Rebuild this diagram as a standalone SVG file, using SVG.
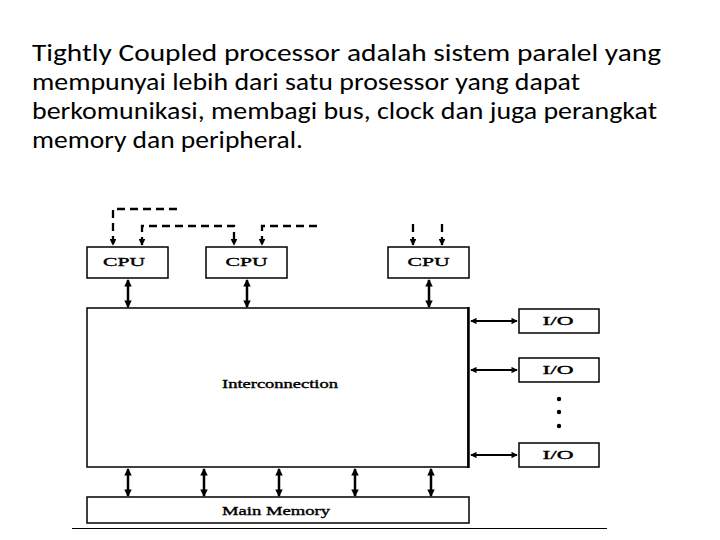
<svg xmlns="http://www.w3.org/2000/svg" width="720" height="540" viewBox="0 0 720 540">
<style>
.title{font-family:Carlito,Lato,"Liberation Sans",sans-serif;font-size:24px;fill:#000}
.box{fill:#fff;stroke:#000;stroke-width:1.5}
.lbl{font-family:"Liberation Serif","DejaVu Serif",serif;font-size:12px;fill:#000;stroke:#000;stroke-width:0.35;text-anchor:middle}
.bus{stroke:#000;stroke-width:2.5;fill:none}
.io{stroke:#000;stroke-width:1.8;fill:none}
.dash{stroke:#000;stroke-width:2.3;fill:none;stroke-dasharray:8 5}
</style>
<defs>
<marker id="ah" viewBox="0 0 8 8" refX="7" refY="4" markerWidth="3" markerHeight="3" orient="auto-start-reverse">
<path d="M0,0 L8,4 L0,8 z" fill="#000"/>
</marker>
<marker id="ahs" viewBox="0 0 8 8" refX="7" refY="4" markerWidth="3.5" markerHeight="3.5" orient="auto-start-reverse">
<path d="M0,0 L8,4 L0,8 z" fill="#000"/>
</marker>
</defs>
<rect width="720" height="540" fill="#fff"/>
<g id="title">
<text class="title" x="32" y="61" textLength="629" lengthAdjust="spacingAndGlyphs">Tightly Coupled processor adalah sistem paralel yang</text>
<text class="title" x="32" y="90" textLength="548" lengthAdjust="spacingAndGlyphs">mempunyai lebih dari satu prosessor yang dapat</text>
<text class="title" x="32" y="119" textLength="625" lengthAdjust="spacingAndGlyphs">berkomunikasi, membagi bus, clock dan juga perangkat</text>
<text class="title" x="32" y="148" textLength="271" lengthAdjust="spacingAndGlyphs">memory dan peripheral.</text>
</g>
<g id="connectors">
<polyline class="dash" points="177,209 113,209 113,245" marker-end="url(#ah)"/>
<polyline class="dash" points="142,245 142,226 234,226 234,245" marker-start="url(#ah)" marker-end="url(#ah)"/>
<polyline class="dash" points="317,226 262,226 262,245" marker-end="url(#ah)"/>
<line class="dash" x1="413" y1="224" x2="413" y2="245" marker-end="url(#ah)"/>
<line class="dash" x1="442" y1="224" x2="442" y2="245" marker-end="url(#ah)"/>
<line class="bus" x1="128" y1="280" x2="128" y2="307" marker-start="url(#ah)" marker-end="url(#ah)"/>
<line class="bus" x1="247" y1="280" x2="247" y2="307" marker-start="url(#ah)" marker-end="url(#ah)"/>
<line class="bus" x1="429" y1="280" x2="429" y2="307" marker-start="url(#ah)" marker-end="url(#ah)"/>
<line class="bus" x1="128" y1="469" x2="128" y2="496" marker-start="url(#ah)" marker-end="url(#ah)"/>
<line class="bus" x1="204" y1="469" x2="204" y2="496" marker-start="url(#ah)" marker-end="url(#ah)"/>
<line class="bus" x1="279" y1="469" x2="279" y2="496" marker-start="url(#ah)" marker-end="url(#ah)"/>
<line class="bus" x1="355" y1="469" x2="355" y2="496" marker-start="url(#ah)" marker-end="url(#ah)"/>
<line class="bus" x1="431" y1="469" x2="431" y2="496" marker-start="url(#ah)" marker-end="url(#ah)"/>
<line class="io" x1="471" y1="321" x2="517" y2="321" marker-start="url(#ahs)" marker-end="url(#ahs)"/>
<line class="io" x1="471" y1="370" x2="517" y2="370" marker-start="url(#ahs)" marker-end="url(#ahs)"/>
<line class="io" x1="471" y1="455" x2="517" y2="455" marker-start="url(#ahs)" marker-end="url(#ahs)"/>
</g>
<g id="cpu1"><rect class="box" x="87" y="247" width="81" height="31"/><text class="lbl" x="124" y="266" textLength="42" lengthAdjust="spacingAndGlyphs">CPU</text></g>
<g id="cpu2"><rect class="box" x="206" y="247" width="81" height="31"/><text class="lbl" x="246.5" y="266" textLength="42" lengthAdjust="spacingAndGlyphs">CPU</text></g>
<g id="cpu3"><rect class="box" x="388" y="247" width="81" height="31"/><text class="lbl" x="428.5" y="266" textLength="42" lengthAdjust="spacingAndGlyphs">CPU</text></g>
<g id="interconnection"><rect class="box" x="87" y="308" width="381" height="159"/><line x1="468.5" y1="307" x2="468.5" y2="468" stroke="#000" stroke-width="2.5"/><text class="lbl" x="280" y="388" textLength="116" lengthAdjust="spacingAndGlyphs">Interconnection</text></g>
<g id="io1"><rect class="box" x="519" y="309" width="80" height="24"/><text class="lbl" x="558" y="325" textLength="31" lengthAdjust="spacingAndGlyphs">I/O</text></g>
<g id="io2"><rect class="box" x="519" y="358" width="80" height="24"/><text class="lbl" x="558" y="374" textLength="31" lengthAdjust="spacingAndGlyphs">I/O</text></g>
<g id="io3"><rect class="box" x="519" y="443" width="80" height="24"/><text class="lbl" x="558" y="459" textLength="31" lengthAdjust="spacingAndGlyphs">I/O</text></g>
<g id="dots"><circle cx="559" cy="399" r="2.2"/><circle cx="559" cy="412" r="2.2"/><circle cx="559" cy="426" r="2.2"/></g>
<g id="mainmemory"><rect class="box" x="87" y="497" width="382" height="26"/><text class="lbl" x="276" y="515" textLength="108" lengthAdjust="spacingAndGlyphs">Main Memory</text></g>
<line x1="72" y1="528.5" x2="607" y2="528.5" stroke="#000" stroke-width="1.2"/>
</svg>
